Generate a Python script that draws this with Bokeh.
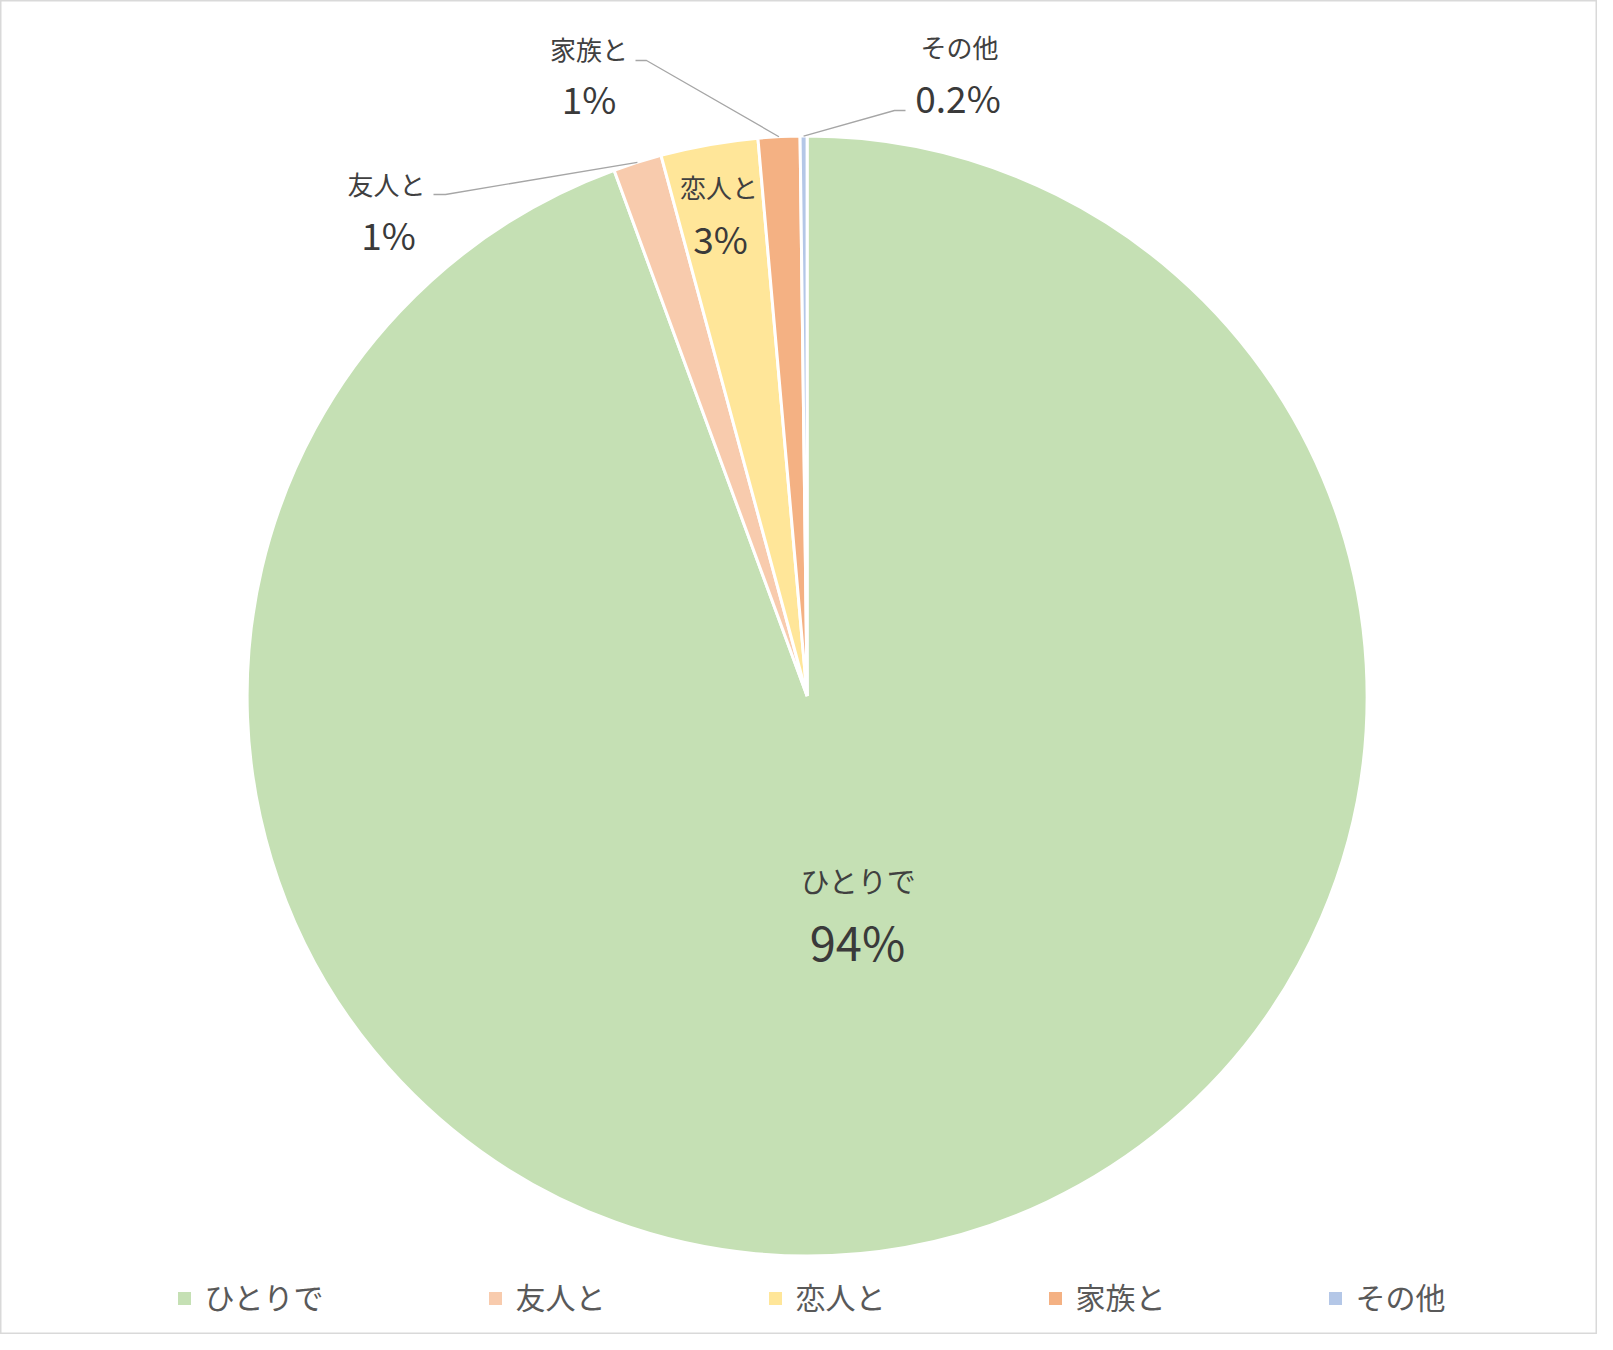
import math
from bokeh.plotting import figure
from bokeh.models import Range1d
from bokeh.core.properties import value
from bokeh.embed import file_html
from bokeh.resources import INLINE

# ---- data ----
categories = ["ひとりで", "友人と", "恋人と", "家族と", "その他"]
shares = [94.4, 1.4, 2.8, 1.2, 0.2]   # percent
colors = ["#C5E0B4", "#F8CBAD", "#FFE699", "#F4B183", "#B4C7E7"]

# ---- layout (pixel coordinates of the picture) ----
FIG_W, FIG_H = 1597, 1334
PAGE_H = 1350
def Y(y):
    return PAGE_H - y

cx, cy, R = 806.6, Y(695.5), 560.0

cat_pos = [(858, 879), (386, 183), (718.5, 185.5), (588.5, 48), (959, 46)]
cat_size = ["29px", "26px", "26px", "26px", "26px"]
pct_pos = [(857, 940), (388, 233), (720, 237.5), (588.5, 97.5), (957.5, 96.5)]
pct_size = ["47px", "37px", "37px", "37px", "37px"]
leader_elbow = [None, [(433, 194), (445, 194)], None, [(635, 60), (646, 60)], [(905, 110), (894, 110)]]
legend_x = [184, 495, 775, 1055, 1335]
legend_y = 1298

def fmt(v):
    return f"{v:.0f}%" if v >= 1 else f"{v:.1f}%"

total = sum(shares)
starts, ends, mids = [], [], []
acc = 0.0
for v in shares:
    a0 = math.pi / 2 - 2 * math.pi * acc / total
    acc += v
    a1 = math.pi / 2 - 2 * math.pi * acc / total
    starts.append(a0)
    ends.append(a1)
    mids.append((a0 + a1) / 2)

p = figure(width=FIG_W, height=FIG_H,
           x_range=Range1d(0, FIG_W), y_range=Range1d(Y(FIG_H), Y(0)),
           output_backend="svg", toolbar_location=None, min_border=0,
           background_fill_color="white", border_fill_color="white")
p.axis.visible = False
p.grid.visible = False
p.outline_line_color = "#D9D9D9"
p.outline_line_width = 2

p.wedge(x=cx, y=cy, radius=R, start_angle=starts, end_angle=ends,
        direction="clock", fill_color=colors, line_color="white", line_width=3)

# leader lines
xs, ys = [], []
for i, el in enumerate(leader_elbow):
    if el is None:
        continue
    ex = cx + R * math.cos(mids[i])
    ey = cy + R * math.sin(mids[i])
    xs.append([pt[0] for pt in el] + [ex])
    ys.append([Y(pt[1]) for pt in el] + [ey])
p.multi_line(xs=xs, ys=ys, line_color="#A6A6A6", line_width=1.3)

font = value("Noto Sans CJK JP")
for i, v in enumerate(shares):
    p.text(x=[cat_pos[i][0]], y=[Y(cat_pos[i][1])], text=[categories[i]],
           text_font=font, text_font_size=cat_size[i], text_color="#404040",
           text_align="center", text_baseline="middle")
    p.text(x=[pct_pos[i][0]], y=[Y(pct_pos[i][1])], text=[fmt(v)],
           text_font=font, text_font_size=pct_size[i], text_color="#3A3A3A",
           text_align="center", text_baseline="middle")

# legend
p.rect(x=legend_x, y=[Y(legend_y)] * len(legend_x), width=13, height=13,
       fill_color=colors, line_color=None)
p.text(x=[lx + 20 for lx in legend_x], y=[Y(legend_y - 3)] * len(legend_x), text=categories,
       text_font=font, text_font_size="30px", text_color="#595959",
       text_align="left", text_baseline="middle")

open("out.html", "w").write(file_html(p, INLINE))
